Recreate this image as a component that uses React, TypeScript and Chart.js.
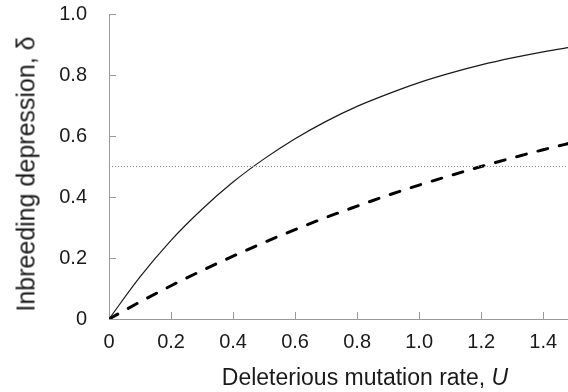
import React, { useEffect, useRef } from "react";
import { Chart, registerables } from "chart.js";

Chart.register(...registerables);

const uValues = [0, 0.1, 0.2, 0.3, 0.4, 0.5, 0.6, 0.7, 0.8, 0.9, 1.0, 1.1, 1.2, 1.3, 1.4, 1.5];
const solidDelta = [0, 0.138, 0.258, 0.36, 0.449, 0.525, 0.591, 0.648, 0.697, 0.738, 0.775, 0.806, 0.833, 0.856, 0.876, 0.893];
const dashedDelta = [0, 0.056, 0.109, 0.159, 0.206, 0.251, 0.293, 0.333, 0.37, 0.406, 0.439, 0.47, 0.5, 0.528, 0.555, 0.58];
const thresholdU = [0, 1.5];
const thresholdDelta = [0.5, 0.5];
const xTickLabels = ["0", "0.2", "0.4", "0.6", "0.8", "1.0", "1.2", "1.4"];
const yTickLabels = ["0", "0.2", "0.4", "0.6", "0.8", "1.0"];

const FONT = "'Liberation Sans', Arial, sans-serif";
const AXIS_COLOR = "#9a9a9a";

const innerTicks = {
  id: "innerTicks",
  afterDraw(chart: any) {
    const ctx = chart.ctx;
    const xs = chart.scales.x;
    const ys = chart.scales.y;
    ctx.save();
    ctx.strokeStyle = AXIS_COLOR;
    ctx.lineWidth = 1;
    ctx.beginPath();
    xs.ticks.forEach((t: any) => {
      if (t.value === 0) return;
      const px = Math.round(xs.getPixelForValue(t.value)) + 0.5;
      ctx.moveTo(px, ys.bottom);
      ctx.lineTo(px, ys.bottom - 7);
    });
    ys.ticks.forEach((t: any) => {
      if (t.value === 0) return;
      const py = Math.round(ys.getPixelForValue(t.value)) + 0.5;
      ctx.moveTo(xs.left, py);
      ctx.lineTo(xs.left + 7, py);
    });
    ctx.stroke();
    ctx.restore();
  },
};

export default function App() {
  const ref = useRef<HTMLCanvasElement | null>(null);

  useEffect(() => {
    if (!ref.current) return;
    const chart = new Chart(ref.current, {
      type: "line",
      data: {
        datasets: [
          {
            label: "threshold",
            data: thresholdU.map((u, i) => ({ x: u, y: thresholdDelta[i] })),
            borderColor: "#8a8a8a",
            borderWidth: 1,
            borderDash: [1, 2],
            pointRadius: 0,
            fill: false,
          },
          {
            label: "solid",
            data: uValues.map((u, i) => ({ x: u, y: solidDelta[i] })),
            borderColor: "#1a1a1a",
            borderWidth: 1.2,
            pointRadius: 0,
            cubicInterpolationMode: "monotone",
            fill: false,
          },
          {
            label: "dashed",
            data: uValues.map((u, i) => ({ x: u, y: dashedDelta[i] })),
            borderColor: "#000000",
            borderWidth: 3,
            borderDash: [10, 12],
            borderCapStyle: "round",
            pointRadius: 0,
            cubicInterpolationMode: "monotone",
            fill: false,
          },
        ],
      },
      options: {
        animation: false,
        responsive: true,
        maintainAspectRatio: false,
        layout: { padding: { top: 14, left: 0, right: 0, bottom: 0 } },
        plugins: {
          legend: { display: false },
          tooltip: { enabled: false },
        },
        scales: {
          x: {
            type: "linear",
            min: 0,
            max: 1.48,
            grid: { display: false, drawTicks: false },
            border: { display: true, color: AXIS_COLOR, width: 1 },
            ticks: {
              stepSize: 0.2,
              includeBounds: false,
              padding: 11,
              color: "#1a1a1a",
              font: { family: FONT, size: 20 },
              maxRotation: 0,
              callback: (v: any) => {
                const i = Math.round(Number(v) / 0.2);
                return xTickLabels[i] ?? "";
              },
            },
            afterFit: (s: any) => {
              s.height = 73;
              s.paddingLeft = 0;
              s.paddingRight = 0;
            },
          },
          y: {
            type: "linear",
            min: 0,
            max: 1.0,
            grid: { display: false, drawTicks: false },
            border: { display: true, color: AXIS_COLOR, width: 1 },
            ticks: {
              stepSize: 0.2,
              padding: 22,
              color: "#1a1a1a",
              font: { family: FONT, size: 20 },
              callback: (v: any) => {
                const i = Math.round(Number(v) / 0.2);
                return yTickLabels[i] ?? "";
              },
            },
            afterFit: (s: any) => {
              s.width = 109;
              s.paddingTop = 0;
              s.paddingBottom = 0;
            },
          },
        },
      },
      plugins: [innerTicks],
    } as any);
    return () => chart.destroy();
  }, []);

  return (
    <div style={{ position: "absolute", left: 0, top: 0, width: 568, height: 392, overflow: "hidden", background: "#fff" }}>
      <canvas ref={ref} />
      <div
        style={{
          position: "absolute",
          left: 365,
          top: 377,
          transform: "translate(-50%, -50%)",
          whiteSpace: "nowrap",
          fontFamily: FONT,
          fontSize: 23,
          color: "#1a1a1a",
          lineHeight: 1,
        }}
      >
        Deleterious mutation rate, <i>U</i>
      </div>
      <div
        style={{
          position: "absolute",
          left: 26,
          top: 174,
          transform: "translate(-50%, -50%) rotate(-90deg)",
          whiteSpace: "nowrap",
          fontFamily: FONT,
          fontSize: 25,
          color: "#1a1a1a",
          lineHeight: 1,
        }}
      >
        Inbreeding depression, δ
      </div>
    </div>
  );
}
